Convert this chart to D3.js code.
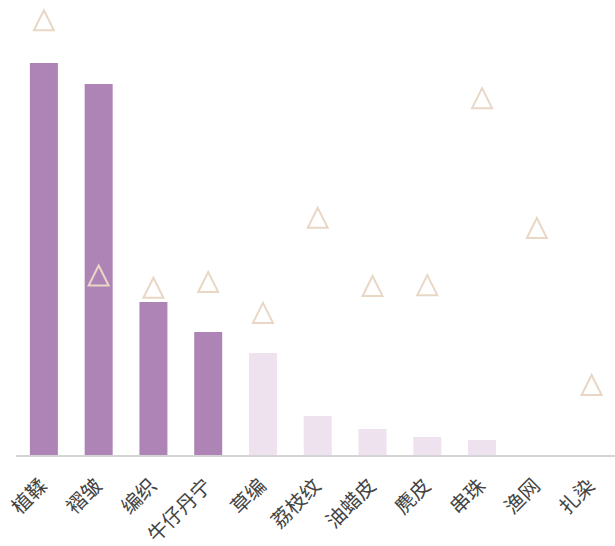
<!DOCTYPE html>
<html>
<head>
<meta charset="utf-8">
<script src="https://cdn.jsdelivr.net/npm/d3@7"></script>
<style>
  body { margin: 0; background: #fff; }
  svg { display: block; }
</style>
</head>
<body>
<div id="chart"></div>
<script>
var categories = ["植鞣", "褶皱", "编织", "牛仔丹宁", "草编", "荔枝纹", "油蜡皮", "麂皮", "串珠", "渔网", "扎染"];
var barValues = [19.6, 18.55, 7.65, 6.15, 5.1, 1.95, 1.3, 0.9, 0.75, 0, 0];
var markValues = [98.8, 40.8, 38.0, 39.3, 32.3, 53.9, 38.4, 38.6, 81.1, 51.6, 15.9];
var highlighted = [true, true, true, true, false, false, false, false, false, false, false];

function init(){
    var w = 615, h = 546;
    var baseY = 455;

    var svg = d3.select("#chart")
                .append("svg")
                .attr("width", w)
                .attr("height", h);

    var x = d3.scaleBand()
              .domain(categories)
              .range([16.5, 619])
              .paddingInner(0.489)
              .paddingOuter(0.2445);

    var y = d3.scaleLinear()
              .domain([0, 22])
              .range([baseY, 15]);

    var y2 = d3.scaleLinear()
               .domain([0, 100])
               .range([baseY, 15]);

    // bars
    svg.selectAll("rect.bar")
        .data(categories)
        .enter()
        .append("rect")
        .attr("class", "bar")
        .attr("x", function(d){ return x(d); })
        .attr("width", x.bandwidth())
        .attr("y", function(d, i){ return y(barValues[i]); })
        .attr("height", function(d, i){ return baseY - y(barValues[i]); })
        .attr("fill", function(d, i){ return highlighted[i] ? "#ae83b5" : "#eee2ee"; });

    // axis line
    svg.append("line")
        .attr("x1", 16)
        .attr("x2", w)
        .attr("y1", baseY + 1)
        .attr("y2", baseY + 1)
        .attr("stroke", "#d4d4d4")
        .attr("stroke-width", 2);

    // triangles
    var tw = 20, th = 20;
    svg.selectAll("path.mark")
        .data(categories)
        .enter()
        .append("path")
        .attr("class", "mark")
        .attr("transform", function(d, i){
            return "translate(" + (x(d) + x.bandwidth() / 2) + "," + y2(markValues[i]) + ")";
        })
        .attr("d", "M0," + (-th / 2) + "L" + (tw / 2) + "," + (th / 2) + "L" + (-tw / 2) + "," + (th / 2) + "Z")
        .attr("fill", "none")
        .attr("stroke", "#e9d7c6")
        .attr("stroke-width", 2);

    // category labels
    svg.selectAll("text.cat")
        .data(categories)
        .enter()
        .append("text")
        .attr("class", "cat")
        .attr("transform", function(d){
            return "translate(" + (x(d) + x.bandwidth() / 2 + 4.5) + "," + (baseY + 32) + ") rotate(-45)";
        })
        .attr("text-anchor", "end")
        .attr("font-family", "'Noto Sans CJK SC', sans-serif")
        .attr("font-size", 20)
        .attr("fill", "#444")
        .text(function(d){ return d; });
}

window.onload = init;
</script>
</body>
</html>
